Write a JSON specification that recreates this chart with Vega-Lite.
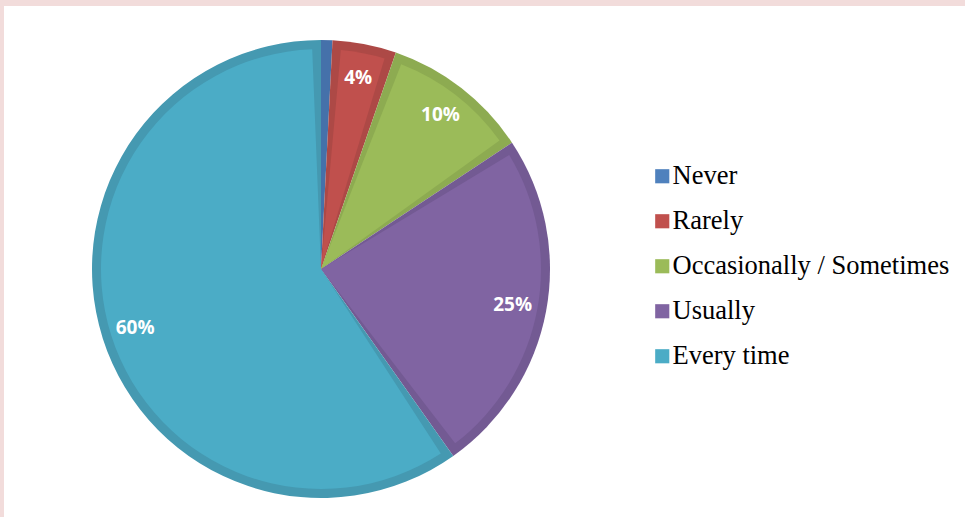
{
  "$schema": "https://vega.github.io/schema/vega-lite/v6.json",
  "background": "#F2DCDB",
  "padding": {"left": 4, "top": 6, "right": 0, "bottom": 0},
  "data": {
    "values": [
      {"answer": "Never", "order": 1, "share": 0.8, "label": ""},
      {"answer": "Rarely", "order": 2, "share": 4.5, "label": "4%"},
      {"answer": "Occasionally / Sometimes", "order": 3, "share": 10.4, "label": "10%"},
      {"answer": "Usually", "order": 4, "share": 24.5, "label": "25%"},
      {"answer": "Every time", "order": 5, "share": 59.8, "label": "60%"}
    ]
  },
  "spacing": 0,
  "resolve": {"scale": {"color": "independent"}, "legend": {"color": "independent"}},
  "hconcat": [
    {
      "width": 634,
      "height": 511,
      "view": {"fill": "white", "stroke": null},
      "resolve": {"scale": {"color": "independent"}, "legend": {"color": "independent"}},
      "layer": [
        {
          "mark": {"type": "arc", "outerRadius": 229, "yOffset": 7.5},
          "encoding": {
            "theta": {"field": "share", "type": "quantitative", "stack": true},
            "order": {"field": "order", "type": "quantitative"},
            "color": {
              "field": "answer", "type": "nominal", "legend": null,
              "scale": {"domain": ["Never", "Rarely", "Occasionally / Sometimes", "Usually", "Every time"],
                        "range": ["#4571AA", "#AD4946", "#8DAB51", "#735A93", "#4599B1"]}
            }
          }
        },
        {
          "mark": {"type": "arc", "outerRadius": 220, "padAngle": 0.08, "yOffset": 7.5},
          "encoding": {
            "theta": {"field": "share", "type": "quantitative", "stack": true},
            "order": {"field": "order", "type": "quantitative"},
            "color": {
              "field": "answer", "type": "nominal", "legend": null,
              "scale": {"domain": ["Never", "Rarely", "Occasionally / Sometimes", "Usually", "Every time"],
                        "range": ["#4F81BD", "#C0504D", "#9BBB59", "#8064A2", "#4BACC6"]}
            }
          }
        },
        {
          "mark": {"type": "text", "radius": 195, "yOffset": 7.5, "font": "Open Sans", "fontWeight": "bold", "fontSize": 19, "color": "white"},
          "encoding": {
            "theta": {"field": "share", "type": "quantitative", "stack": true},
            "order": {"field": "order", "type": "quantitative"},
            "text": {"field": "label", "type": "nominal"}
          }
        }
      ]
    },
    {
      "width": 327,
      "height": 511,
      "view": {"fill": "white", "stroke": null},
      "mark": {"type": "arc", "opacity": 0},
      "encoding": {
        "theta": {"field": "share", "type": "quantitative", "stack": true},
        "color": {
          "field": "answer", "type": "nominal",
          "scale": {"domain": ["Never", "Rarely", "Occasionally / Sometimes", "Usually", "Every time"],
                    "range": ["#4F81BD", "#C0504D", "#9BBB59", "#8064A2", "#4BACC6"]},
          "legend": {
            "title": null, "orient": "none", "legendX": 11, "legendY": 157,
            "symbolType": "square", "symbolSize": 200, "symbolOpacity": 1, "symbolStrokeWidth": 0,
            "labelFont": "Liberation Serif", "labelFontSize": 26.5, "labelColor": "black",
            "labelOffset": -3, "rowPadding": 18, "padding": 0, "labelLimit": 400
          }
        }
      }
    }
  ],
  "config": {"view": {"fill": "white", "stroke": null}}
}
